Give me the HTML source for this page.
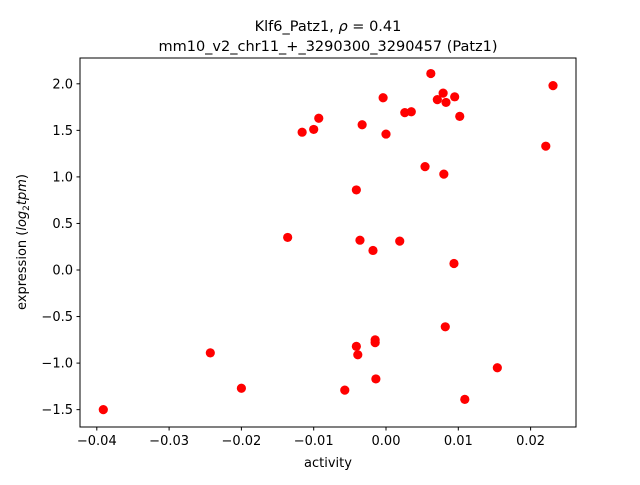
<!DOCTYPE html>
<html><head><meta charset="utf-8"><style>
html,body{margin:0;padding:0;background:#fff;}
svg text{font-family:"DejaVu Sans","Liberation Sans",sans-serif;fill:#000;}
</style></head><body>
<svg id="chart" width="640" height="480" viewBox="0 0 640 480" xmlns="http://www.w3.org/2000/svg">
<rect width="640" height="480" fill="#fff"/>
<text x="328" y="31" font-size="14.5" text-anchor="middle">Klf6_Patz1, <tspan font-style="italic">ρ</tspan> = 0.41</text>
<text x="328" y="51" font-size="14.5" text-anchor="middle">mm10_v2_chr11_+_3290300_3290457 (Patz1)</text>
<text x="328" y="467" font-size="13" text-anchor="middle">activity</text>
<text transform="translate(26,242) rotate(-90)" font-size="13" text-anchor="middle">expression (<tspan font-style="italic">log</tspan><tspan font-size="9" dy="3">2</tspan><tspan dy="-3" font-style="italic">tpm</tspan>)</text>
<g id="ticks"></g>
<g id="points"></g>
<rect x="80" y="58" width="496" height="369" fill="none" stroke="#000" stroke-width="1"/>
</svg>
<script>
const xs = [-0.0391,-0.0243,-0.0200,-0.0136,-0.0116,-0.0100,-0.0093,-0.0057,-0.0041,-0.0041,-0.0039,-0.0036,-0.0033,-0.0018,-0.0015,-0.0015,-0.0014,-0.0004,0.0000,0.0019,0.0026,0.0035,0.0054,0.0062,0.0071,0.0079,0.0080,0.0082,0.0083,0.0094,0.0095,0.0102,0.0109,0.0154,0.0221,0.0231];
const ys = [-1.50,-0.89,-1.27,0.35,1.48,1.51,1.63,-1.29,0.86,-0.82,-0.91,0.32,1.56,0.21,-0.75,-0.78,-1.17,1.85,1.46,0.31,1.69,1.70,1.11,2.11,1.83,1.90,1.03,-0.61,1.80,0.07,1.86,1.65,-1.39,-1.05,1.33,1.98];
const xTicks = [-0.04,-0.03,-0.02,-0.01,0.00,0.01,0.02];
const xTickLabels = ["−0.04","−0.03","−0.02","−0.01","0.00","0.01","0.02"];
const yTicks = [-1.5,-1.0,-0.5,0.0,0.5,1.0,1.5,2.0];
const yTickLabels = ["−1.5","−1.0","−0.5","0.0","0.5","1.0","1.5","2.0"];

function xScale(v){return 386 + v*7230;}
function yScale(v){return 270 - v*93.1;}
const NS="http://www.w3.org/2000/svg";
const tg=document.getElementById('ticks');
xTicks.forEach((t,i)=>{
  const X=xScale(t);
  const l=document.createElementNS(NS,'line');
  l.setAttribute('x1',X);l.setAttribute('x2',X);l.setAttribute('y1',427);l.setAttribute('y2',430.5);
  l.setAttribute('stroke','#000');
  
  
  tg.appendChild(l);
  const tx=document.createElementNS(NS,'text');
  tx.setAttribute('x',X);tx.setAttribute('y',445);tx.setAttribute('font-size','13');tx.setAttribute('text-anchor','middle');
  tx.textContent=xTickLabels[i];
  
  
  tg.appendChild(tx);
});
yTicks.forEach((t,i)=>{
  const Y=yScale(t);
  const l=document.createElementNS(NS,'line');
  l.setAttribute('x1',76.5);l.setAttribute('x2',80);l.setAttribute('y1',Y);l.setAttribute('y2',Y);
  l.setAttribute('stroke','#000');
  
  
  tg.appendChild(l);
  const tx=document.createElementNS(NS,'text');
  tx.setAttribute('x',73);tx.setAttribute('y',Y+4.5);tx.setAttribute('font-size','13');tx.setAttribute('text-anchor','end');
  tx.textContent=yTickLabels[i];
  
  
  tg.appendChild(tx);
});
const pg=document.getElementById('points');
xs.forEach((x,i)=>{
  const c=document.createElementNS(NS,'circle');
  c.setAttribute('cx',xScale(x));c.setAttribute('cy',yScale(ys[i]));c.setAttribute('r',4.6);
  c.setAttribute('fill','#ff0000');
  
  
  pg.appendChild(c);
});
</script>
</body></html>
